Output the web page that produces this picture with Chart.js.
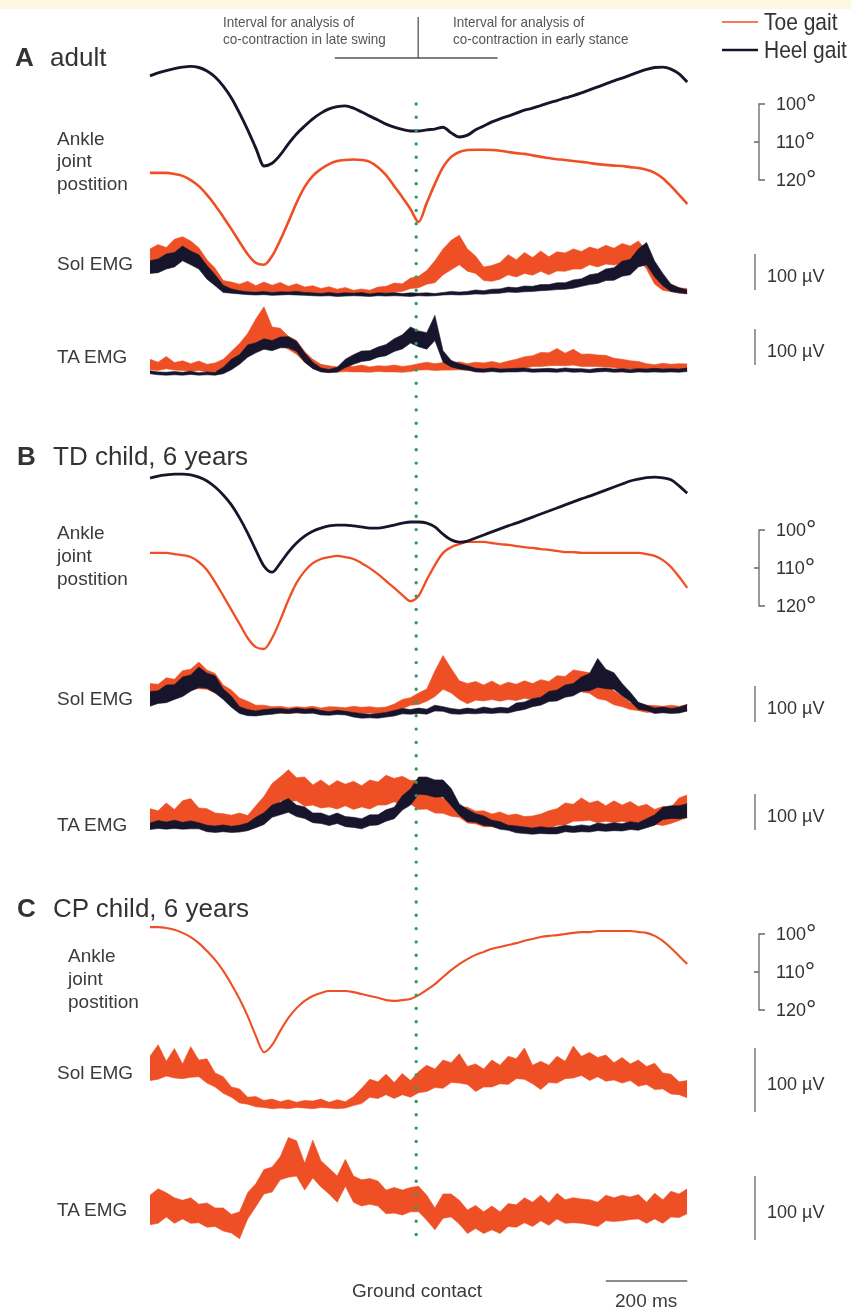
<!DOCTYPE html>
<html>
<head>
<meta charset="utf-8">
<script src="https://cdn.jsdelivr.net/npm/chart.js@4.4.1/dist/chart.umd.min.js"></script>
<style>
  html, body { margin: 0; padding: 0; background: #fff; overflow: hidden; }
  #fig { position: relative; width: 851px; height: 1309px; font-family: "Liberation Sans", Arial, sans-serif; color: #3b3b3b; }
  #strip { position: absolute; left: 0; top: 0; width: 851px; height: 9px; background: #fdf7e1; }
  canvas { position: absolute; left: 0; top: 0; }
  .t { position: absolute; white-space: nowrap; line-height: 1; transform: translateY(-50%); }
  .title { font-size: 26px; color: #333; }
  .lbl { font-size: 19px; }
  .note { font-size: 13.5px; color: #555; transform: translateY(-50%) scaleY(1.15); }
  .leg { font-size: 21px; color: #333; transform: translateY(-50%) scaleY(1.1); }
  .sb { font-size: 18px; color: #333; }
  .deg { font-size: 26px; position: relative; top: 2px; font-weight: 300; }
</style>
</head>
<body>
<div id="fig">
  <div id="strip"></div>
  <canvas id="chart" width="851" height="1309"></canvas>

  <div class="t title" style="left:15px;top:57px"><b>A</b></div>
  <div class="t title" style="left:50px;top:57px">adult</div>
  <div class="t title" style="left:17px;top:456px"><b>B</b></div>
  <div class="t title" style="left:53px;top:456px">TD child, 6 years</div>
  <div class="t title" style="left:17px;top:908px"><b>C</b></div>
  <div class="t title" style="left:53px;top:908px">CP child, 6 years</div>

  <div class="t lbl" style="left:57px;top:138px">Ankle</div>
  <div class="t lbl" style="left:57px;top:160px">joint</div>
  <div class="t lbl" style="left:57px;top:183px">postition</div>
  <div class="t lbl" style="left:57px;top:263px">Sol EMG</div>
  <div class="t lbl" style="left:57px;top:356px">TA EMG</div>

  <div class="t lbl" style="left:57px;top:532px">Ankle</div>
  <div class="t lbl" style="left:57px;top:555px">joint</div>
  <div class="t lbl" style="left:57px;top:578px">postition</div>
  <div class="t lbl" style="left:57px;top:698px">Sol EMG</div>
  <div class="t lbl" style="left:57px;top:824px">TA EMG</div>

  <div class="t lbl" style="left:68px;top:955px">Ankle</div>
  <div class="t lbl" style="left:68px;top:978px">joint</div>
  <div class="t lbl" style="left:68px;top:1001px">postition</div>
  <div class="t lbl" style="left:57px;top:1072px">Sol EMG</div>
  <div class="t lbl" style="left:57px;top:1209px">TA EMG</div>

  <div class="t note" style="left:223px;top:22px">Interval for analysis of</div>
  <div class="t note" style="left:223px;top:39px">co-contraction in late swing</div>
  <div class="t note" style="left:453px;top:22px">Interval for analysis of</div>
  <div class="t note" style="left:453px;top:39px">co-contraction in early stance</div>

  <div class="t leg" style="left:764px;top:22px">Toe gait</div>
  <div class="t leg" style="left:764px;top:50px">Heel gait</div>

  <div class="t lbl" style="left:352px;top:1290px">Ground contact</div>
  <div class="t lbl" style="left:615px;top:1300px">200 ms</div>
</div>

<script>
// sample times, ms from start of the gait cycle
const timeMs = [0,20,40,60,80,100,120,140,160,180,200,220,240,260,280,300,320,340,360,380,
  400,420,440,460,480,500,520,540,560,580,600,620,640,660,680,700,720,740,760,780,
  800,820,840,860,880,900,920,940,960,980,1000,1020,1040,1060,1080,1100,1120,1140,1160,1180,
  1200,1220,1240,1260,1280,1300,1320];
const contactMs = 654;
const intervalMs = 200;

// ankle joint position, degrees
const adultHeelAngle = [92.6,91.8,91.2,90.7,90.3,90.1,90.4,91.3,92.9,95.3,98.4,102.4,106.8,111.6,116.3,115.6,113.4,110.5,107.9,105.8,
  103.9,102.4,101.3,100.7,100.5,101.1,102.1,103.2,104.2,105.3,106.1,106.7,107.1,107.1,106.8,106.6,106.1,107.6,108.7,108.2,
  106.8,105.8,104.7,103.9,103.2,102.4,101.6,101.1,100.4,99.7,99.1,98.4,97.8,97.1,96.3,95.5,94.7,93.9,93.2,92.4,
  91.6,90.9,90.4,90.3,90.8,92.1,94.2];
const adultToeAngle = [99.7,99.7,99.7,100,100.5,101.6,103.2,105.5,108.2,111.3,114.5,117.9,121.1,123.4,123.9,121.6,117.4,112.6,107.6,103.4,
  100.5,98.7,97.4,96.6,96.3,96.2,96.3,96.8,98.2,100.3,103.2,106.1,109.2,112.6,107.6,102.6,98.2,95.5,94.2,93.7,
  93.6,93.6,93.7,93.9,94.2,94.5,94.7,95.1,95.5,95.8,96.1,96.3,96.6,96.8,97.1,97.4,97.6,97.8,97.9,98.2,
  98.4,98.9,99.7,101.1,103.2,105.5,107.9];
const tdHeelAngle = [86.3,85.8,85.5,85.3,85.3,85.5,86.1,87.1,88.7,90.8,93.4,96.8,100.8,105.3,109.5,111.1,108.7,105.8,103.4,101.6,
  100.3,99.5,98.9,98.7,98.7,98.9,99.2,99.5,99.5,99.2,98.7,98.2,97.9,97.9,98.2,99.2,101.1,102.6,103.2,102.9,
  102.1,101.3,100.5,99.7,98.9,98.2,97.4,96.6,95.8,95.0,94.2,93.4,92.6,91.8,91.1,90.3,89.5,88.7,87.9,87.1,
  86.6,86.2,86.1,86.3,86.8,88.4,90.3];
const tdToeAngle = [87.6,87.6,87.6,87.9,88.2,88.7,90.0,92.1,95.3,98.9,102.6,106.3,110.0,112.4,112.9,110.0,105.3,100.0,95.5,92.4,
  90.3,89.2,88.7,88.4,88.7,89.2,90.3,91.6,93.2,95.0,96.8,98.7,100.3,98.9,94.7,90.8,87.6,86.1,85.3,84.7,
  84.7,84.7,85.0,85.3,85.5,85.8,86.1,86.3,86.6,86.8,87.1,87.4,87.4,87.6,87.6,87.6,87.6,87.6,87.6,87.6,
  87.6,87.9,88.4,89.5,91.3,93.9,96.8];
const cpToeAngle = [98.2,98.2,98.4,98.9,99.7,100.8,102.4,104.5,106.8,109.7,113.2,117.1,121.6,126.8,131.1,129.2,125.5,122.1,119.5,117.6,
  116.3,115.5,115.0,115.0,115.0,115.3,115.8,116.3,116.8,117.4,117.6,117.4,117.1,116.1,114.7,113.2,111.3,109.5,107.9,106.6,
  105.5,104.7,103.9,103.4,102.9,102.4,101.8,101.3,100.8,100.5,100.3,100.0,99.7,99.5,99.5,99.2,99.2,99.2,99.2,99.2,
  99.5,99.7,100.5,101.8,103.7,105.8,107.9];

// raw EMG, µV: lower and upper edge of the trace
const adultSolToeLo = [72,84,80,95,98,100,76,60,28,15,6,12,9,9,10,7,9,6,7,4,6,3,4,2,1,0,1,0,3,5,
  9,10,18,20,30,34,56,70,84,66,60,40,38,44,56,50,60,55,66,56,67,66,72,72,84,78,86,83,89,88,100,72,30,13,9,5,6];
const adultSolToeHi = [128,140,132,155,162,150,131,98,74,40,36,30,38,26,36,27,35,24,31,22,26,18,23,16,21,13,17,13,22,24,
  33,31,47,52,68,95,128,152,166,128,108,78,82,90,112,98,118,104,122,106,120,117,128,121,133,127,138,130,143,136,150,122,78,40,30,20,18];
const adultSolHeelLo = [60,62,72,78,95,84,72,44,26,7,5,3,1,0,1,-1,0,1,0,-1,-2,-3,-2,-4,-3,-2,-3,-4,-2,-3,
  -2,-3,-4,-2,-3,-2,0,1,0,1,3,2,4,5,8,7,9,10,12,13,15,16,19,24,29,32,40,41,52,56,78,84,50,26,10,6,3];
const adultSolHeelHi = [95,100,114,118,136,122,112,82,56,27,17,12,9,8,10,7,9,8,10,7,6,4,7,4,6,5,7,3,6,5,
  7,4,6,5,6,4,7,10,8,10,14,12,16,17,22,20,25,24,29,29,34,34,42,45,56,60,72,76,94,99,128,146,94,60,30,20,14];
const adultTAToeLo = [9,7,12,8,7,5,7,3,4,9,20,35,60,76,88,76,77,66,52,30,14,6,3,2,4,3,3,2,4,3,
  3,2,4,8,9,7,8,8,9,7,8,8,9,7,11,12,13,18,18,20,21,20,22,18,18,18,17,15,11,12,8,6,5,7,6,6,6];
const adultTAToeHi = [38,30,46,29,34,26,33,24,28,38,60,82,110,150,184,128,124,102,90,60,38,24,20,17,21,18,22,17,20,19,
  22,18,21,26,30,26,29,27,31,26,30,28,32,27,33,38,45,48,57,56,68,55,66,52,53,50,49,41,38,34,32,26,23,27,24,26,25];
const adultTAHeelLo = [-2,-5,-6,-5,-6,-4,-6,-5,-6,-2,9,24,44,56,66,62,70,70,60,30,12,3,1,3,15,24,32,35,44,48,
  60,67,83,73,66,90,30,17,11,8,3,2,4,2,3,3,4,2,3,3,2,4,2,3,1,3,4,2,3,1,3,2,3,2,3,2,4];
const adultTAHeelHi = [6,3,2,4,2,5,1,3,2,16,38,51,78,84,95,90,100,101,88,56,30,14,10,16,38,51,61,62,72,79,
  95,106,128,117,112,160,62,35,26,20,13,11,14,11,12,13,14,11,12,13,11,14,12,12,10,13,14,11,12,10,12,11,13,11,12,11,14];

const tdSolToeLo = [42,49,50,58,62,74,76,74,64,55,34,26,16,12,10,11,8,7,9,8,8,7,9,8,7,9,8,8,7,9,
  12,20,30,32,41,54,74,64,46,34,44,42,46,41,46,43,49,45,52,48,58,59,69,67,63,48,44,31,26,18,15,10,12,10,12,10,14];
const tdSolToeHi = [90,88,106,102,126,130,150,128,118,86,72,50,41,30,30,26,27,23,26,24,27,22,26,25,23,27,24,26,23,25,
  33,46,51,64,75,125,168,132,98,90,96,86,97,85,94,88,98,90,101,96,112,110,128,124,120,100,90,70,55,37,35,30,29,27,30,27,32];
const tdSolHeelLo = [27,35,37,46,54,69,79,77,64,46,24,7,1,0,3,5,8,7,9,7,8,3,2,4,3,-3,-6,-5,-6,-3,
  0,6,5,7,5,14,13,6,5,7,6,8,7,9,8,14,18,26,30,40,42,52,56,69,70,80,76,74,56,40,18,15,7,9,7,8,14];
const tdSolHeelHi = [68,70,86,87,108,114,136,119,112,75,55,26,18,14,18,20,21,18,22,19,21,15,12,16,13,10,7,5,7,10,
  15,21,18,22,19,30,26,21,18,22,19,25,21,24,22,36,39,48,52,68,72,86,90,108,118,160,130,120,90,66,38,30,22,25,21,24,32];
const tdTAToeLo = [10,12,19,15,24,22,21,12,12,7,9,6,10,17,38,55,84,82,84,69,72,64,67,61,70,60,67,61,72,72,
  81,72,75,60,61,50,49,41,38,22,20,12,12,7,9,5,4,2,7,7,16,17,27,28,30,23,27,23,27,23,24,17,19,15,21,29,38];
const tdTAToeHi = [62,56,78,60,84,90,64,62,50,48,44,50,43,70,96,132,150,170,148,150,128,142,125,140,130,138,126,142,136,155,
  146,152,140,142,114,110,90,92,68,66,55,56,47,53,44,47,40,42,47,56,62,78,74,92,78,84,70,84,72,82,68,74,60,68,66,92,100];
const tdTAHeelLo = [4,7,5,7,5,6,6,-2,-4,-2,-4,-3,1,9,18,38,45,52,40,35,23,21,15,21,12,10,6,15,17,27,
  34,58,72,102,100,94,95,70,44,26,24,15,13,5,2,-5,-7,-9,-7,-8,-8,-2,-4,-2,-3,1,-1,1,0,4,2,9,16,32,35,34,37];
const tdTAHeelHi = [22,29,25,30,24,28,23,16,14,17,13,16,22,38,51,72,80,90,72,67,50,50,42,50,40,38,34,45,45,59,
  66,98,117,150,150,142,142,118,75,60,48,42,30,26,16,14,11,8,12,9,11,16,13,17,14,22,19,23,20,26,23,34,45,66,70,70,76];

const cpSolToeLo = [46,48,53,50,49,51,52,42,36,26,20,11,9,5,4,2,3,2,4,3,2,4,3,2,3,7,10,20,18,24,
  18,24,20,27,29,35,34,43,42,40,29,36,36,41,40,49,48,41,32,43,42,49,50,54,46,52,45,47,42,46,37,40,32,33,25,24,19];
const cpSolToeHi = [84,102,76,96,72,99,78,80,58,52,36,33,20,21,15,17,13,16,12,15,14,17,12,16,13,21,34,48,44,56,
  43,57,46,60,70,64,78,74,88,68,72,64,78,70,84,80,97,70,76,70,84,76,100,84,90,82,86,74,82,72,78,68,73,58,56,44,46];
const cpTAToeLo = [24,26,36,26,33,26,27,20,21,14,11,2,33,52,72,75,94,98,100,78,97,83,72,59,84,59,53,56,53,41,
  42,39,44,44,31,16,34,36,25,10,18,10,16,10,21,20,27,21,30,23,33,26,27,26,24,21,30,29,30,32,33,26,33,26,36,35,41];
const cpTAToeHi = [70,80,74,66,62,66,56,58,50,50,40,44,74,88,110,114,130,160,155,120,156,124,112,100,126,100,94,96,92,78,
  82,78,82,84,70,50,72,72,62,47,54,44,53,44,57,55,66,59,70,58,73,63,66,64,63,59,70,66,70,67,71,59,73,63,76,72,80];

// ---- layout (pixels) ----
const W = 851, H = 1309;
const X0PX = 150, PX_PER_MS = 0.407, PX_PER_DEG = 3.8;
const toeColor = '#ef4f24', heelColor = '#17152c', gcColor = '#2d9c61', barColor = '#666';

// where 100 deg sits for each angle row
const angleRows = { aAngH: 104, aAngT: 174, bAngH: 530, bAngT: 600, cAngT: 934 };
// EMG rows: pixel of 0 uV, pixels per 100 uV
const emgRows = {
  aSol: [295, 36], aTA: [373, 36],
  bSol: [716, 36], bTA: [831, 36],
  cSol: [1110, 64], cTA: [1240, 64]
};
const angleBars = ['aAngH', 'bAngH', 'cAngT'];
const uvBars = [['aSol', 14], ['aTA', 22], ['bSol', -17], ['bTA', 3], ['cSol', -3], ['cTA', 0]];

function pts(values) {
    return timeMs.map((t, i) => ({ x: t, y: values[i] }));
}

function angleLine(axis, values, color, width) {
    return {
        yAxisID: axis, data: pts(values), borderColor: color, borderWidth: width,
        cubicInterpolationMode: 'monotone', pointRadius: 0, fill: false, order: 1
    };
}

function emgBand(axis, lo, hi, color, order) {
    const common = {
        yAxisID: axis, borderColor: color, backgroundColor: color, borderWidth: 0.6,
        pointRadius: 0, tension: 0, order: order
    };
    return [
        { ...common, data: pts(lo), fill: false },
        { ...common, data: pts(hi), fill: '-1' }
    ];
}

const scales = {
    x: { type: 'linear', display: false, bounds: 'data', min: -X0PX / PX_PER_MS, max: (W - X0PX) / PX_PER_MS }
};
for (const id in angleRows) {
    const min = 100 - angleRows[id] / PX_PER_DEG;
    scales[id] = { type: 'linear', display: false, bounds: 'data', reverse: true, min: min, max: min + H / PX_PER_DEG };
}
for (const id in emgRows) {
    const k = 100 / emgRows[id][1];
    scales[id] = { type: 'linear', display: false, bounds: 'data', max: emgRows[id][0] * k, min: (emgRows[id][0] - H) * k };
}

const datasets = [
    angleLine('aAngH', adultHeelAngle, heelColor, 2.9),
    angleLine('aAngT', adultToeAngle, toeColor, 2.6),
    ...emgBand('aSol', adultSolToeLo, adultSolToeHi, toeColor, 3),
    ...emgBand('aSol', adultSolHeelLo, adultSolHeelHi, heelColor, 2),
    ...emgBand('aTA', adultTAToeLo, adultTAToeHi, toeColor, 3),
    ...emgBand('aTA', adultTAHeelLo, adultTAHeelHi, heelColor, 2),

    angleLine('bAngH', tdHeelAngle, heelColor, 2.8),
    angleLine('bAngT', tdToeAngle, toeColor, 2.3),
    ...emgBand('bSol', tdSolToeLo, tdSolToeHi, toeColor, 3),
    ...emgBand('bSol', tdSolHeelLo, tdSolHeelHi, heelColor, 2),
    ...emgBand('bTA', tdTAToeLo, tdTAToeHi, toeColor, 3),
    ...emgBand('bTA', tdTAHeelLo, tdTAHeelHi, heelColor, 2),

    angleLine('cAngT', cpToeAngle, toeColor, 2.1),
    ...emgBand('cSol', cpSolToeLo, cpSolToeHi, toeColor, 3),
    ...emgBand('cTA', cpTAToeLo, cpTAToeHi, toeColor, 3)
];

const decor = {
    id: 'decor',
    afterDatasetsDraw(chart) {
        const ctx = chart.ctx, s = chart.scales;
        const gx = s.x.getPixelForValue(contactMs);
        ctx.save();

        // interval bracket at the top
        ctx.strokeStyle = '#555';
        ctx.lineWidth = 1.3;
        ctx.beginPath();
        ctx.moveTo(gx + 2, 17); ctx.lineTo(gx + 2, 58);
        ctx.moveTo(s.x.getPixelForValue(contactMs - intervalMs), 58);
        ctx.lineTo(s.x.getPixelForValue(contactMs + intervalMs), 58);
        ctx.stroke();

        // legend swatches
        ctx.strokeStyle = toeColor; ctx.lineWidth = 1.5;
        ctx.beginPath(); ctx.moveTo(722, 22); ctx.lineTo(758, 22); ctx.stroke();
        ctx.strokeStyle = heelColor; ctx.lineWidth = 2.5;
        ctx.beginPath(); ctx.moveTo(722, 50); ctx.lineTo(758, 50); ctx.stroke();

        // angle brackets
        ctx.strokeStyle = barColor; ctx.lineWidth = 1.3;
        angleBars.forEach(id => {
            const bx = 759, y100 = s[id].getPixelForValue(100), y110 = s[id].getPixelForValue(110), y120 = s[id].getPixelForValue(120);
            ctx.beginPath();
            ctx.moveTo(bx + 6, y100); ctx.lineTo(bx, y100); ctx.lineTo(bx, y120); ctx.lineTo(bx + 6, y120);
            ctx.moveTo(bx - 5, y110); ctx.lineTo(bx, y110);
            ctx.stroke();
        });

        // 100 uV bars
        uvBars.forEach(([id, from]) => {
            ctx.beginPath();
            ctx.moveTo(755, s[id].getPixelForValue(from));
            ctx.lineTo(755, s[id].getPixelForValue(from + 100));
            ctx.stroke();
        });

        // 200 ms bar
        const endMs = timeMs[timeMs.length - 1];
        ctx.beginPath();
        ctx.moveTo(s.x.getPixelForValue(endMs - 200), 1281);
        ctx.lineTo(s.x.getPixelForValue(endMs), 1281);
        ctx.stroke();

        // ground contact
        ctx.strokeStyle = gcColor; ctx.lineWidth = 3.4; ctx.lineCap = 'round';
        ctx.setLineDash([0, 13.3]);
        ctx.beginPath();
        ctx.moveTo(gx, s.aAngH.getPixelForValue(100));
        ctx.lineTo(gx, s.cTA.getPixelForValue(-8));
        ctx.stroke();
        ctx.restore();
    }
};

const chart = new Chart(document.getElementById('chart'), {
    type: 'line',
    data: { datasets: datasets },
    options: {
        responsive: false,
        animation: false,
        events: [],
        layout: { padding: 0 },
        scales: scales,
        plugins: { legend: { display: false }, tooltip: { enabled: false } }
    },
    plugins: [decor]
});

// scale bar labels, placed from the axes
const fig = document.getElementById('fig');
function addLabel(html, left, top) {
    const d = document.createElement('div');
    d.className = 't sb';
    d.style.left = left + 'px';
    d.style.top = top + 'px';
    d.innerHTML = html;
    fig.appendChild(d);
}
angleBars.forEach(id => {
    [100, 110, 120].forEach(v => {
        addLabel(v + '<span class="deg">°</span>', 776, chart.scales[id].getPixelForValue(v) - 3);
    });
});
uvBars.forEach(([id, from]) => {
    addLabel('100 µV', 767, chart.scales[id].getPixelForValue(from + 50) + 4);
});
</script>
</body>
</html>
